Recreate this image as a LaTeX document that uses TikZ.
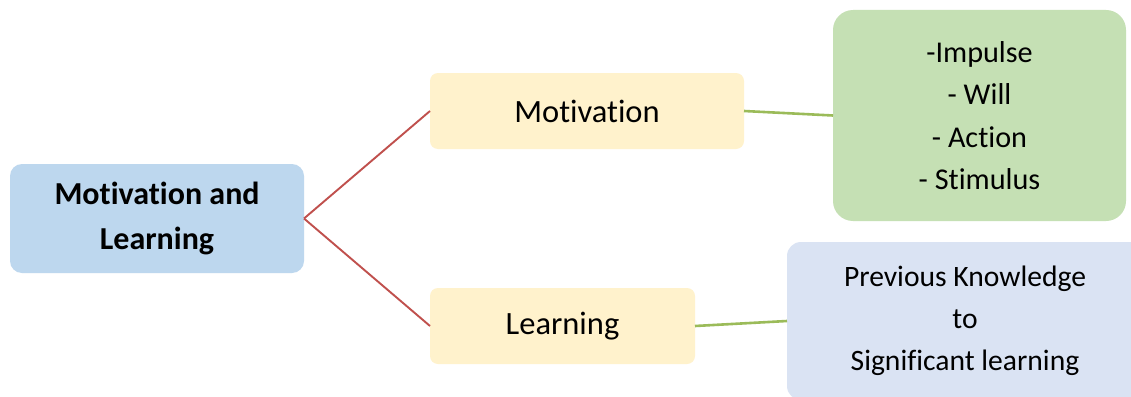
\documentclass[tikz,border=0pt]{standalone}
\usepackage{fontspec}
\setmainfont[RawFeature=-liga]{Carlito}
\definecolor{cblue}{HTML}{BDD7EE}
\definecolor{cyellow}{HTML}{FFF2CC}
\definecolor{cgreen}{HTML}{C5E0B4}
\definecolor{clav}{HTML}{DAE3F3}
\definecolor{credline}{HTML}{C0504D}
\definecolor{cgreenline}{HTML}{9BBB59}
\tikzset{
  box/.style={inner sep=0pt, outer sep=0pt, align=center, text=black},
  redline/.style={draw=credline, line width=1.9pt},
  greenline/.style={draw=cgreenline, line width=2.6pt},
}
\begin{document}
\begin{tikzpicture}[x=1pt,y=-1pt]
\path[use as bounding box, clip] (0,0) rectangle (1131,396);
\fill[white] (0,0) rectangle (1131,396);
\node[box, fill=cblue, rounded corners=12pt, minimum width=294pt, minimum height=109pt,
  font=\fontsize{32}{45}\selectfont\bfseries] (ml) at (157,218.5) {Motivation and\\Learning};
\node[box, fill=cyellow, rounded corners=8pt, minimum width=314pt, minimum height=76pt,
  font=\fontsize{32.5}{40}\selectfont] (mot) at (587,111) {Motivation};
\node[box, fill=cyellow, rounded corners=8pt, minimum width=265pt, minimum height=76pt,
  font=\fontsize{32.5}{40}\selectfont] (lea) at (562.5,326) {Learning};
\node[box, fill=cgreen, rounded corners=20pt, minimum width=293pt, minimum height=211pt,
  font=\fontsize{30.2}{42.3}\selectfont] (grn) at (979.5,115.5) {-Impulse\\- Will\\- Action\\- Stimulus};
\node[box, fill=clav, rounded corners=14pt, minimum width=356pt, minimum height=158pt,
  font=\fontsize{29.6}{42}\selectfont] (lav) at (965,321) {Previous Knowledge\\to\\Significant learning};
\draw[redline] (ml.east) -- (mot.west);
\draw[redline] (ml.east) -- (lea.west);
\draw[greenline] (mot.east) -- (grn.west);
\draw[greenline] (lea.east) -- (lav.west);
\end{tikzpicture}
\end{document}
